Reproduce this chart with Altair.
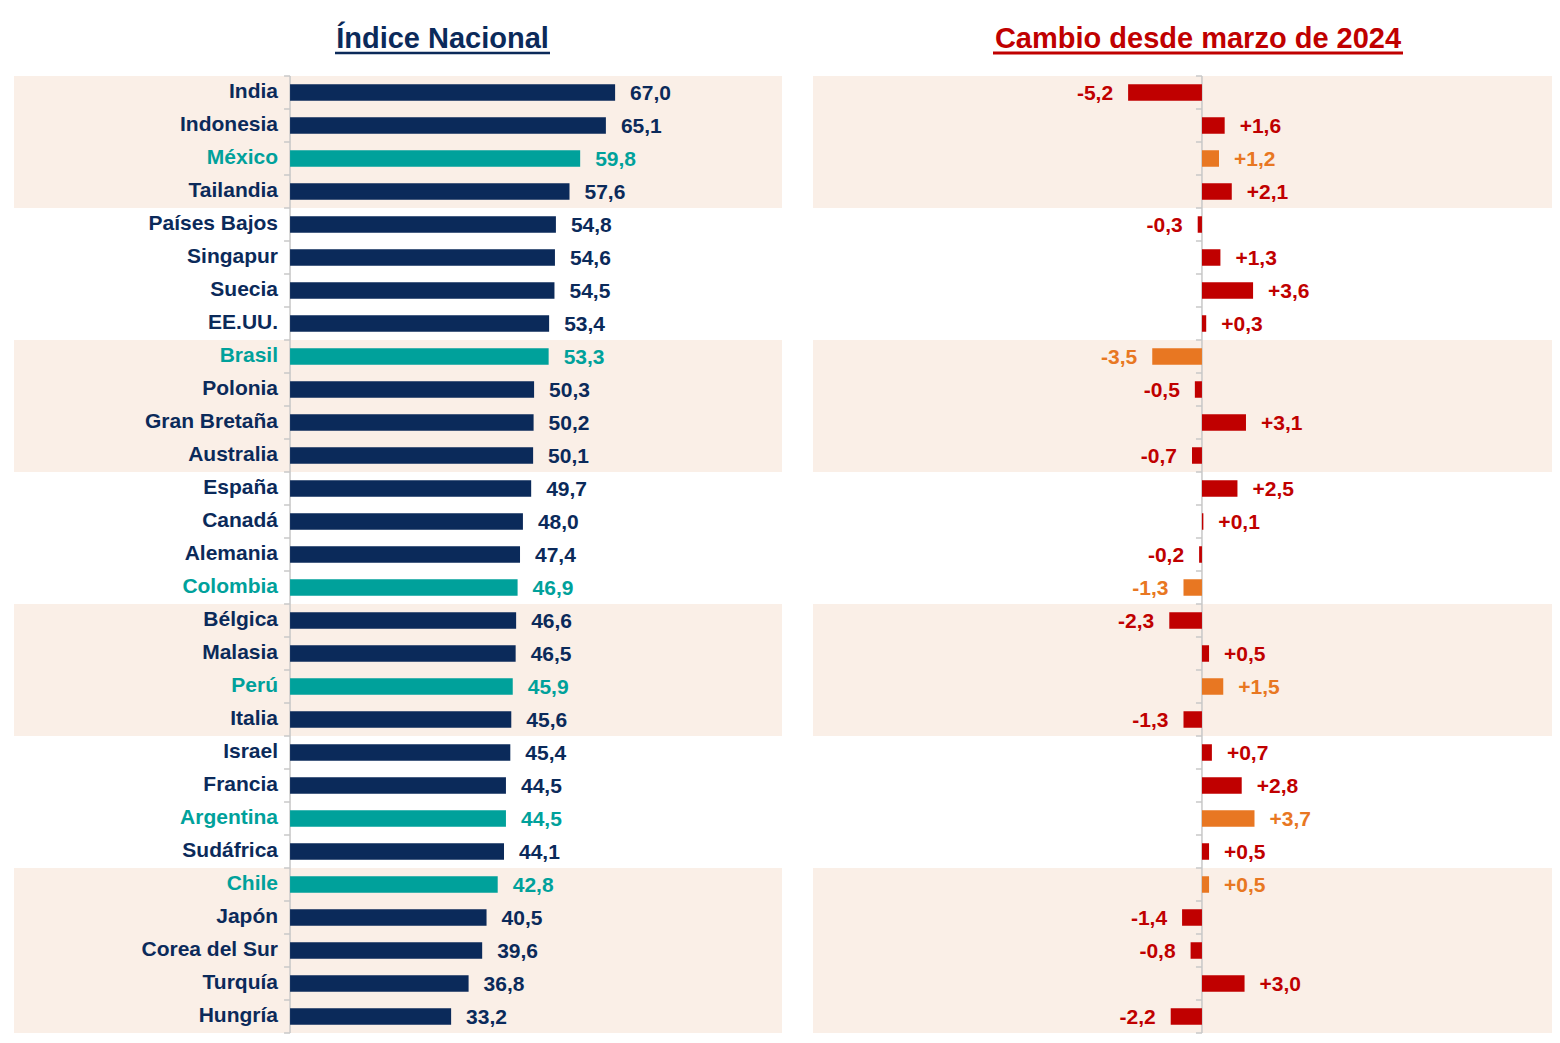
import altair as alt
import pandas as pd

countries = ["India", "Indonesia", "México", "Tailandia", "Países Bajos", "Singapur",
             "Suecia", "EE.UU.", "Brasil", "Polonia", "Gran Bretaña", "Australia",
             "España", "Canadá", "Alemania", "Colombia", "Bélgica", "Malasia", "Perú",
             "Italia", "Israel", "Francia", "Argentina", "Sudáfrica", "Chile", "Japón",
             "Corea del Sur", "Turquía", "Hungría"]
index_values = [67.0, 65.1, 59.8, 57.6, 54.8, 54.6, 54.5, 53.4, 53.3, 50.3, 50.2, 50.1,
                49.7, 48.0, 47.4, 46.9, 46.6, 46.5, 45.9, 45.6, 45.4, 44.5, 44.5, 44.1,
                42.8, 40.5, 39.6, 36.8, 33.2]
change_values = [-5.2, 1.6, 1.2, 2.1, -0.3, 1.3, 3.6, 0.3, -3.5, -0.5, 3.1, -0.7,
                 2.5, 0.1, -0.2, -1.3, -2.3, 0.5, 1.5, -1.3, 0.7, 2.8, 3.7, 0.5,
                 0.5, -1.4, -0.8, 3.0, -2.2]
latam = ["México", "Brasil", "Colombia", "Perú", "Argentina", "Chile"]
band_start = [0, 8, 16, 24]
band_end = [4, 12, 20, 29]

title_left = "Índice Nacional"
title_right = "Cambio desde marzo de 2024"

NAVY = "#0B2A5A"
TEAL = "#00A19B"
RED = "#C00000"
ORANGE = "#E87722"
BAND = "#FAEFE7"
AXIS = "#C8C8C8"
FONT = "Liberation Sans"

n = len(countries)
df = pd.DataFrame({"country": countries, "value": index_values,
                   "change": change_values, "row": list(range(n))})
df["latam"] = df["country"].isin(latam)
df["vlabel"] = [f"{v:.1f}".replace(".", ",") for v in index_values]
df["clabel"] = [f"{v:+.1f}".replace(".", ",") for v in change_values]
bands = pd.DataFrame({"start": band_start, "end": band_end})
bounds = pd.DataFrame({"b": list(range(n + 1))})
one = pd.DataFrame({"a": [0]})

W1, W2, H = 768, 739, 957
ys = alt.Scale(domain=[0, n], reverse=True, nice=False, zero=False)


def build(xdomain, width, field, bar_colors, text_colors, title, title_color,
          title_x, ul_x1, ul_x2, ul_w, signed):
    xs = alt.Scale(domain=xdomain, nice=False, zero=False)
    base = alt.Chart(df).transform_calculate(
        y0="datum.row + 0.25", y1="datum.row + 0.75", ymid="datum.row + 0.5", zero="0")

    band = alt.Chart(bands).mark_rect(color=BAND).encode(
        y=alt.Y("start:Q", scale=ys, axis=None), y2="end:Q",
        x=alt.value(0), x2=alt.value(width))
    axis_line = alt.Chart(one).mark_rule(color=AXIS, strokeWidth=1.5).encode(
        x=alt.X(datum=0, scale=xs, axis=None),
        y=alt.Y(datum=0, scale=ys, axis=None), y2=alt.Y2(datum=n))
    ticks = alt.Chart(bounds).mark_rule(color=AXIS, strokeWidth=1.5, xOffset=-6).encode(
        x=alt.X(datum=0, scale=xs, axis=None), x2=alt.X2(datum=0),
        y=alt.Y("b:Q", scale=ys, axis=None))
    bars = base.mark_rect().encode(
        x=alt.X("zero:Q", scale=xs, axis=None), x2=alt.X2(f"{field}:Q"),
        y=alt.Y("y0:Q", scale=ys, axis=None), y2="y1:Q",
        color=alt.condition("datum.latam", alt.value(bar_colors[0]), alt.value(bar_colors[1])))
    tcolor = alt.condition("datum.latam", alt.value(text_colors[0]), alt.value(text_colors[1]))
    txt = dict(font=FONT, fontSize=21, fontWeight="bold", baseline="middle")
    layers = [band, axis_line, ticks, bars]
    if signed:
        pos = base.transform_filter(f"datum.{field} >= 0").mark_text(
            align="left", dx=15, dy=1, **txt).encode(
            x=alt.X(f"{field}:Q", scale=xs, axis=None),
            y=alt.Y("ymid:Q", scale=ys, axis=None), text="clabel:N", color=tcolor)
        neg = base.transform_filter(f"datum.{field} < 0").mark_text(
            align="right", dx=-15, dy=1, **txt).encode(
            x=alt.X(f"{field}:Q", scale=xs, axis=None),
            y=alt.Y("ymid:Q", scale=ys, axis=None), text="clabel:N", color=tcolor)
        layers += [pos, neg]
    else:
        names = base.mark_text(align="right", dx=-12, dy=-1, **txt).encode(
            x=alt.X(datum=0, scale=xs, axis=None),
            y=alt.Y("ymid:Q", scale=ys, axis=None), text="country:N", color=tcolor)
        vals = base.mark_text(align="left", dx=15, dy=1, **txt).encode(
            x=alt.X(f"{field}:Q", scale=xs, axis=None),
            y=alt.Y("ymid:Q", scale=ys, axis=None), text="vlabel:N", color=tcolor)
        layers += [names, vals]
    ttl = alt.Chart(one).mark_text(text=title, font=FONT, fontSize=29, fontWeight="bold",
                                   color=title_color, align="center",
                                   baseline="alphabetic").encode(
        x=alt.value(title_x), y=alt.value(-28))
    ul = alt.Chart(one).mark_rule(color=title_color, strokeWidth=ul_w).encode(
        x=alt.value(ul_x1), x2=alt.value(ul_x2), y=alt.value(-23))
    layers += [ttl, ul]
    return alt.layer(*layers).properties(width=width, height=H)


left = build([-56.9, 101.4], W1, "value", (TEAL, NAVY), (TEAL, NAVY), title_left,
             NAVY, 428.5, 321, 536, 2.5, False)
right = build([-27.39, 24.65], W2, "change", (ORANGE, RED), (ORANGE, RED), title_right,
              RED, 385, 180, 590, 3, True)

chart = alt.hconcat(left, right, spacing=31).properties(
    padding={"left": 6, "top": 17, "right": 0, "bottom": 0},
    background="white",
).configure_view(strokeWidth=0)

chart.save("out.html", embed_options={"renderer": "svg", "actions": False})
